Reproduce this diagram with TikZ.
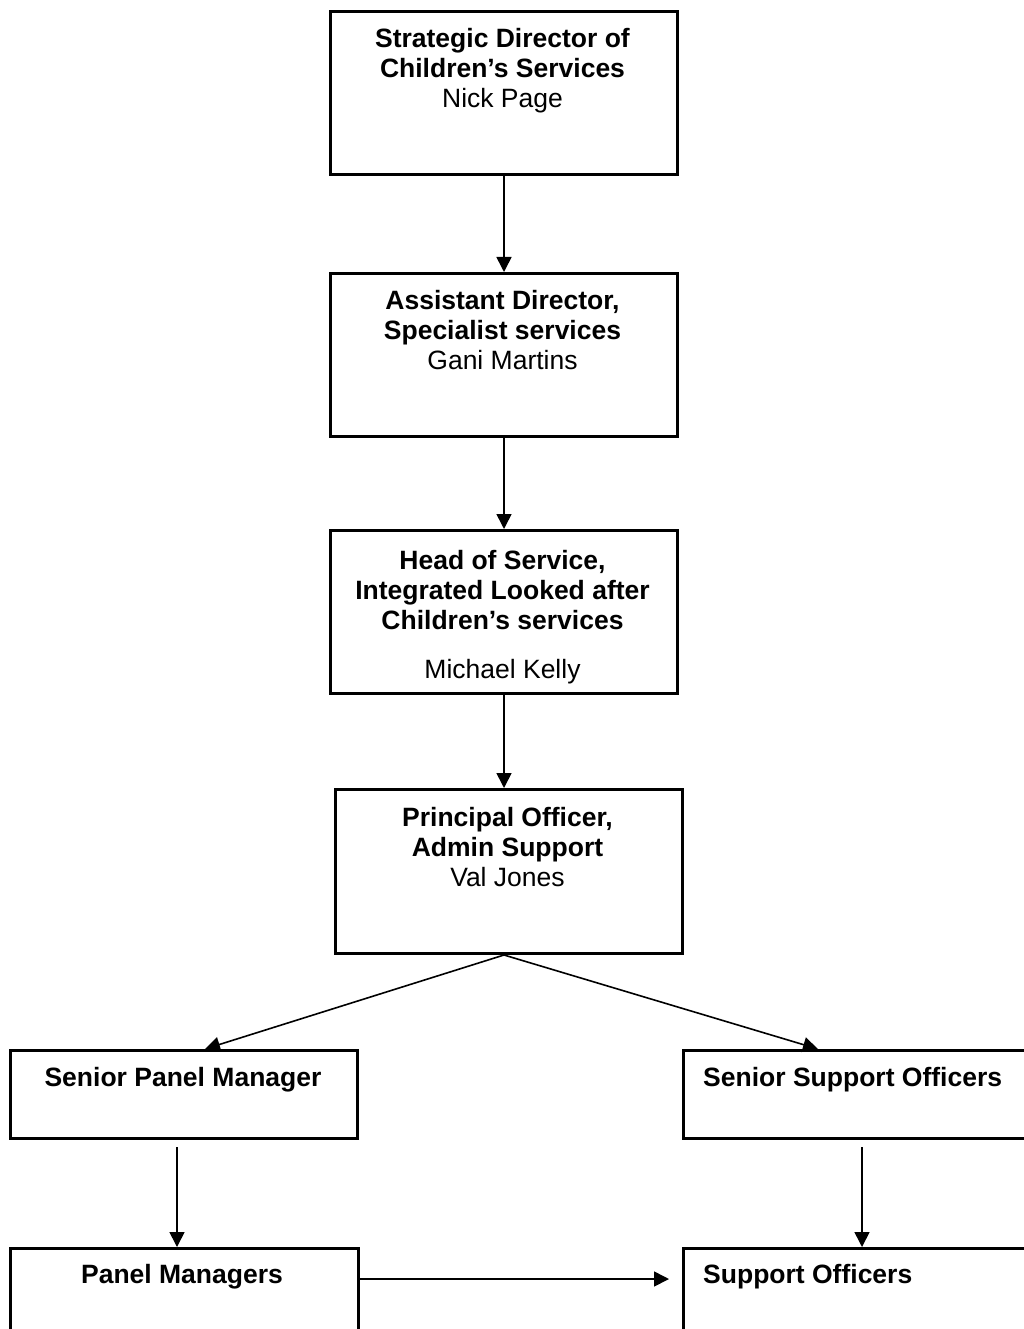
\documentclass[tikz,border=0pt]{standalone}
\usepackage{fontspec}
\setmainfont{Liberation Sans}
\usetikzlibrary{arrows.meta}
\begin{document}
\begin{tikzpicture}[x=1pt,y=-1pt,
  box/.style={draw, line width=3pt, inner sep=0pt, anchor=north west},
  lbl/.style={inner sep=0pt, align=center, font=\fontsize{26.5}{30}\selectfont},
  conn/.style={line width=1.6pt, -{Triangle[length=15pt,width=15pt]}}]
\clip (0,0) rectangle (1024,1329);
\fill[white] (0,0) rectangle (1024,1329);
% boxes
\node[box, minimum width=347pt, minimum height=163pt] (b1) at (329,10) {};
\node[box, minimum width=347pt, minimum height=163pt] (b2) at (329,272) {};
\node[box, minimum width=347pt, minimum height=163pt] (b3) at (329,529) {};
\node[box, minimum width=347pt, minimum height=164pt] (b4) at (334,788) {};
\node[box, minimum width=347pt, minimum height=88pt] (b5) at (9,1049) {};
\node[box, minimum width=360pt, minimum height=88pt] (b6) at (682,1049) {};
\node[box, minimum width=348pt, minimum height=120pt] (b7) at (9,1247) {};
\node[box, minimum width=360pt, minimum height=120pt] (b8) at (682,1247) {};
% texts
\node[lbl, anchor=north] (t1) at (502.5,28) {\textbf{Strategic Director of}\\\textbf{Children’s Services}\\Nick Page};
\node[lbl, anchor=north] (t2) at (502.5,290) {\textbf{Assistant Director,}\\\textbf{Specialist services}\\Gani Martins};
\node[lbl, anchor=north] (t3) at (502.5,550) {\textbf{Head of Service,}\\\textbf{Integrated Looked after}\\\textbf{Children’s services}\\[19pt]Michael Kelly};
\node[lbl, anchor=north] (t4) at (507.5,807) {\textbf{Principal Officer,}\\\textbf{Admin Support}\\Val Jones};
\node[lbl, anchor=center] (t5) at (183,1080) {\textbf{Senior Panel Manager}};
\node[lbl, anchor=west] (t6) at (703,1080) {\textbf{Senior Support Officers}};
\node[lbl, anchor=center] (t7) at (182,1277) {\textbf{Panel Managers}};
\node[lbl, anchor=west] (t8) at (703,1277) {\textbf{Support Officers}};
% connector points
\coordinate (c4) at (b3.south |- b4.south);
\coordinate (e5) at (205,1049);
\coordinate (e6) at (818,1049);
\coordinate (s5) at (177,1147);
\coordinate (s6) at (862,1147);
\coordinate (h1) at (357,1279);
\coordinate (h2) at (669,1279);
% connectors
\draw[conn] (b1.south) -- (b2.north);
\draw[conn] (b2.south) -- (b3.north);
\draw[conn] (b3.south) -- (b3.south |- b4.north);
\draw[conn] (c4) -- (e5);
\draw[conn] (c4) -- (e6);
\draw[conn] (s5) -- (s5 |- b7.north);
\draw[conn] (s6) -- (s6 |- b8.north);
\draw[conn] (h1) -- (h2);
\end{tikzpicture}
\end{document}
